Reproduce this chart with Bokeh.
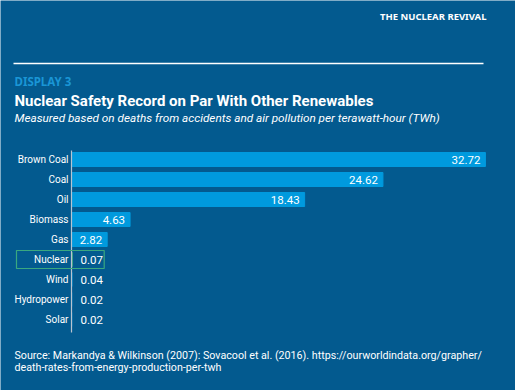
from bokeh.plotting import figure
from bokeh.models import Range1d, Label, ColumnDataSource
from bokeh.core.properties import value
from bokeh.embed import file_html
from bokeh.resources import INLINE

categories = ["Brown Coal", "Coal", "Oil", "Biomass", "Gas", "Nuclear", "Wind", "Hydropower", "Solar"]
deaths = [32.72, 24.62, 18.43, 4.63, 2.82, 0.07, 0.04, 0.02, 0.02]
value_labels = ["32.72", "24.62", "18.43", "4.63", "2.82", "0.07", "0.04", "0.02", "0.02"]
highlight = "Nuclear"

BG = "#035a8f"
BAR = "#009ade"
GREEN = "#3aa880"
COND = "Roboto"
SANS = "Noto Sans"

W, H = 515, 390
AXIS_X = 71          # pixel position of the zero line
PXU = 12.65          # pixels per unit
ROW = 20             # pixels per row
FIRST_ROW_Y = 159    # pixel y of first row centre (from top)

pos = list(range(len(categories)))

p = figure(width=W, height=H, output_backend="svg", toolbar_location=None,
           x_range=Range1d(-AXIS_X / PXU, (W - AXIS_X) / PXU),
           y_range=Range1d((H - FIRST_ROW_Y) / ROW, -FIRST_ROW_Y / ROW),
           min_border=0, background_fill_color=BG, border_fill_color=BG,
           outline_line_color=None)
p.axis.visible = False
p.grid.visible = False

colors = [GREEN if c == highlight else BAR for c in categories]
src = ColumnDataSource(dict(cat=categories, y=pos, v=deaths, lab=value_labels, color=colors))
p.hbar(y="y", right="v", left=0, height=0.7, color="color", source=src)

# zero axis line
p.segment(x0=[0], y0=[-0.45], x1=[0], y1=[len(categories) - 0.35], line_color="#b8c4d0", line_width=1.2)

# category labels
p.text(x=0, y="y", text="cat", source=src, x_offset=-3, text_align="right", text_baseline="middle",
       text_color="white", text_font=value(COND), text_font_size="10px")

# value labels
inside = [v >= 1 for v in deaths]
src_in = ColumnDataSource(dict(y=[y for y, i in zip(pos, inside) if i],
                               v=[v for v, i in zip(deaths, inside) if i],
                               lab=[l for l, i in zip(value_labels, inside) if i]))
src_out = ColumnDataSource(dict(y=[y for y, i in zip(pos, inside) if not i],
                                v=[0 for v, i in zip(deaths, inside) if not i],
                                lab=[l for l, i in zip(value_labels, inside) if not i]))
p.text(x="v", y="y", text="lab", source=src_in, x_offset=-5, text_align="right", text_baseline="middle",
       text_color="white", text_font=value(COND), text_font_size="11.5px")
p.text(x="v", y="y", text="lab", source=src_out, x_offset=9, text_align="left", text_baseline="middle",
       text_color="white", text_font=value(COND), text_font_size="11.5px")

# highlight box around Nuclear
hi = categories.index(highlight)
box_left, box_right = -55 / PXU, 32.7 / PXU
p.rect(x=[(box_left + box_right) / 2], y=[hi], width=[box_right - box_left], height=18, height_units="screen",
       fill_color=None, line_color=GREEN, line_width=1.2)

# header
def lab(text, x, y, size, color="white", style="normal", font=SANS, align="left"):
    p.add_layout(Label(x=x, y=H - y, x_units="screen", y_units="screen", text=text,
                       text_font=font, text_font_size=size, text_color=color,
                       text_font_style=style, text_align=align, text_baseline="middle"))

lab("THE NUCLEAR REVIVAL", 486, 16, "9.5px", style="bold", font="Noto Sans", align="right")
p.segment(x0=[-58 / PXU], y0=[-96 / ROW], x1=[412 / PXU], y1=[-96 / ROW], line_color="white", line_width=1.5)
lab("DISPLAY 3", 14, 81, "11.5px", color="#1a96d6", style="bold", font="Noto Sans")
lab("Nuclear Safety Record on Par With Other Renewables", 14, 100, "15px", style="bold", font=COND)
lab("Measured based on deaths from accidents and air pollution per terawatt-hour (TWh)", 14, 117, "11.75px",
    style="italic", font=COND)
lab("Source: Markandya & Wilkinson (2007): Sovacool et al. (2016). https://ourworldindata.org/grapher/",
    14, 355, "10.7px", font=COND)
lab("death-rates-from-energy-production-per-twh", 14, 367, "10.7px", font=COND)

open("out.html", "w").write(file_html(p, INLINE))
